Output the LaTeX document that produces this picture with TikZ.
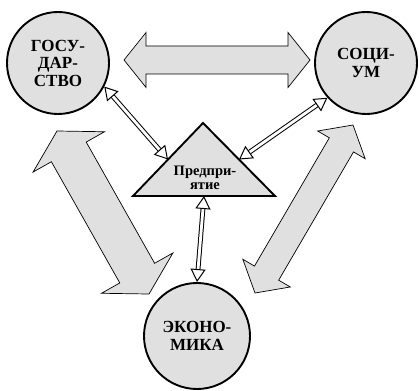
\documentclass[tikz,border=0pt]{standalone}
\usepackage{fontspec}
\setmainfont{Liberation Serif}
\usepackage{xcolor}
\usepackage{tikz}
\usetikzlibrary{calc, arrows.meta}

\definecolor{lightfill}{HTML}{E0E0E0}

\tikzset{
    sphere/.style={circle, draw=black, line width=1.9pt, fill=lightfill, minimum size=102pt, inner sep=0pt, align=center, font=\fontsize{17}{17.5}\selectfont\bfseries},
    bigarrow/.style={draw=black, line width=0.7pt, fill=lightfill, line join=miter},
    link/.style={double=white, double distance=2.8pt, line width=1pt, >={Triangle[fill=white, length=13pt, width=15pt]}, <->}
}

% wide two-headed arrow: tip, angle, length, half shaft, half head, head length
\newcommand{\wideArrow}[6]{%
    \draw [bigarrow, shift={(#1)}, rotate=#2] (0,0) -- (#6,#5) -- (#6,#4) -- (#3-#6,#4) -- (#3-#6,#5) -- (#3,0) -- (#3-#6,-#5) -- (#3-#6,-#4) -- (#6,-#4) -- (#6,-#5) -- cycle;%
}

\begin{document}
\begin{tikzpicture}[x=1pt, y=-1pt]
        \useasboundingbox (0,0) rectangle (419,390);

        %% Wide arrows
        \wideArrow{124,60}{0}{186}{14}{27.5}{22}
        \wideArrow{57,131}{-60.56}{187.2}{20}{41}{24}
        \wideArrow{353,125}{-120.26}{194.5}{14}{27.5}{23}

        %% Circles
        \node (gos) [sphere] at (58,63) {ГОСУ-\\ДАР-\\СТВО};
        \node (soc) [sphere] at (366,63) {СОЦИ-\\УМ};
        \node (eco) [sphere, minimum size=106pt] at (197,336) {ЭКОНО-\\МИКА};

        %% Enterprise
        \coordinate (apex) at (203,123);
        \coordinate (baseL) at (133,196);
        \coordinate (baseR) at (275,196);
        \draw [line width=1.9pt, fill=lightfill, line join=miter] (apex) -- (baseR) -- (baseL) -- cycle;
        \node (ent) [font=\fontsize{14.5}{14.5}\selectfont\bfseries, align=center] at (205,178) {Предпри-\\ятие};
        \coordinate (entL) at ($(apex)!0.5!(baseL)$);
        \coordinate (entR) at ($(apex)!0.5!(baseR)$);
        \coordinate (entB) at ($(baseL)!0.5!(baseR)$);

        %% Links
        \draw [link] (gos.-27) -- (entL);
        \draw [link] (soc.-138) -- (entR);
        \draw [link] (eco.north) -- (entB);

\end{tikzpicture}
\end{document}
